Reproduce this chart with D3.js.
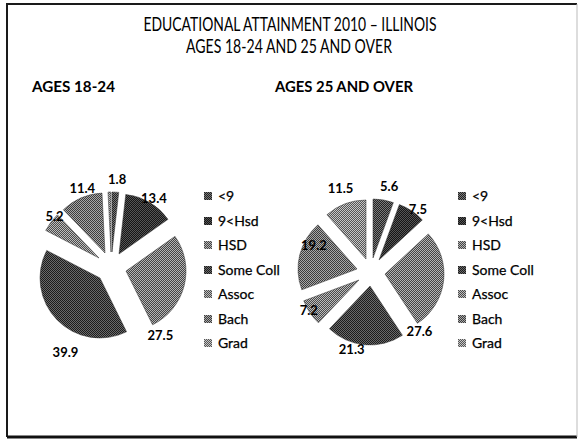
<!DOCTYPE html>
<html><head><meta charset="utf-8">
<script src="https://cdn.jsdelivr.net/npm/d3@7"></script>
<style>html,body{margin:0;padding:0;background:#fff;}svg{display:block;}</style>
</head><body>
<script>
// ---- data ----
const categories = ["<9", "9<Hsd", "HSD", "Some Coll", "Assoc", "Bach", "Grad"];
const ages1824 = [1.8, 13.4, 27.5, 39.9, 5.2, 11.4, 0.8];
const ages25Over = [5.6, 7.5, 27.6, 21.3, 7.2, 19.2, 11.5];
const showLabel1824 = [true, true, true, true, true, true, false];
const showLabel25 = [true, true, true, true, true, true, true];
const titleLines = ["EDUCATIONAL ATTAINMENT 2010 \u2013 ILLINOIS", "AGES 18-24 AND 25 AND OVER"];
const chartTitles = ["AGES 18-24", "AGES 25 AND OVER"];

// ---- layout / style ----
const W = 579, H = 440;
const patternColors = [
  ["#222222", "#7a7a7a"],
  ["#151515", "#555555"],
  ["#444444", "#b4b4b4"],
  ["#1c1c1c", "#6a6a6a"],
  ["#4a4a4a", "#bcbcbc"],
  ["#3c3c3c", "#a8a8a8"],
  ["#555555", "#c6c6c6"]
];
// label placement (angle in degrees clockwise from 12 o'clock, distance from pie center)
const labelPlace1824 = [[4, 88], [32, 81], [144, 84], [208, 97], [312, 76], [340, 84], [0, 0]];
const labelPlace25 = [[12, 87], [37, 78], [141, 77], [194, 80], [238.5, 73], [295, 63], [340, 89]];

const svg = d3.select("body").append("svg").attr("width", W).attr("height", H);
const defs = svg.append("defs");
patternColors.forEach((c, i) => {
  const p = defs.append("pattern").attr("id", "pat" + i)
    .attr("patternUnits", "userSpaceOnUse").attr("width", 2).attr("height", 2);
  p.append("rect").attr("width", 2).attr("height", 2).attr("fill", c[1]);
  p.append("rect").attr("width", 1).attr("height", 1).attr("fill", c[0]);
  p.append("rect").attr("x", 1).attr("y", 1).attr("width", 1).attr("height", 1).attr("fill", c[0]);
});

// slide border
const border = svg.append("g").attr("fill", "none");
border.append("path").attr("d", "M7,437 L7,4 L577,4").attr("stroke", "#1a1a1a").attr("stroke-width", 2);
border.append("path").attr("d", "M7,437 L577,437").attr("stroke", "#111").attr("stroke-width", 3);
border.append("path").attr("d", "M577,4 L577,437").attr("stroke", "#bbb").attr("stroke-width", 1);

// titles
const font = "Lato, 'Open Sans', sans-serif";
svg.append("text").attr("x", 290).attr("y", 31).attr("text-anchor", "middle")
  .attr("font-family", font).attr("font-size", 19).attr("fill", "#000")
  .attr("textLength", 293).attr("lengthAdjust", "spacingAndGlyphs").text(titleLines[0]);
svg.append("text").attr("x", 289).attr("y", 53).attr("text-anchor", "middle")
  .attr("font-family", font).attr("font-size", 19).attr("fill", "#000")
  .attr("textLength", 206).attr("lengthAdjust", "spacingAndGlyphs").text(titleLines[1]);

svg.append("text").attr("x", 32).attr("y", 92)
  .attr("font-family", font).attr("font-size", 16).attr("font-weight", 700).attr("fill", "#000")
  .attr("textLength", 83).attr("lengthAdjust", "spacingAndGlyphs").text(chartTitles[0]);
svg.append("text").attr("x", 275).attr("y", 92)
  .attr("font-family", font).attr("font-size", 16).attr("font-weight", 700).attr("fill", "#000")
  .attr("textLength", 138).attr("lengthAdjust", "spacingAndGlyphs").text(chartTitles[1]);

function drawPie(values, shown, place, cx, cy, r, explode, legendX) {
  const g = svg.append("g").attr("transform", `translate(${cx},${cy})`);
  const pie = d3.pie().sort(null).value(d => d)(values);
  const arc = d3.arc().innerRadius(0).outerRadius(r);
  g.selectAll("path.slice").data(pie).enter().append("path")
    .attr("class", "slice")
    .attr("d", arc)
    .attr("fill", (d, i) => `url(#pat${i})`)
    .attr("stroke", "#333").attr("stroke-width", 0.5)
    .attr("transform", d => {
      const m = (d.startAngle + d.endAngle) / 2;
      return `translate(${Math.round(Math.sin(m) * explode)},${Math.round(-Math.cos(m) * explode)})`;
    });
  g.selectAll("text.lbl").data(pie.filter((d, i) => shown[i])).enter().append("text")
    .attr("class", "lbl")
    .attr("x", d => { const p = place[d.index]; return Math.sin(p[0] * Math.PI / 180) * p[1]; })
    .attr("y", d => { const p = place[d.index]; return -Math.cos(p[0] * Math.PI / 180) * p[1]; })
    .attr("dy", "0.35em").attr("text-anchor", "middle")
    .attr("font-family", font).attr("font-size", 13).attr("font-weight", 700).attr("fill", "#000")
    .text(d => d3.format(".1f")(d.data));

  const y = d3.scalePoint().domain(categories).range([196, 343]);
  const lg = svg.append("g");
  const items = lg.selectAll("g").data(categories).enter().append("g")
    .attr("transform", d => `translate(${legendX},${Math.round(y(d))})`);
  items.append("rect").attr("x", 0).attr("y", -4).attr("width", 8).attr("height", 8)
    .attr("fill", (d, i) => `url(#pat${i})`);
  items.append("text").attr("x", 14).attr("dy", "0.35em")
    .attr("font-family", font).attr("font-size", 14).attr("fill", "#000")
    .attr("stroke", "#000").attr("stroke-width", 0.25)
    .text(d => d);
}

drawPie(ages1824, showLabel1824, labelPlace1824, 111, 267, 60, 15, 204);
drawPie(ages25Over, showLabel25, labelPlace25, 371, 272, 59, 14, 458);
</script>
</body></html>
